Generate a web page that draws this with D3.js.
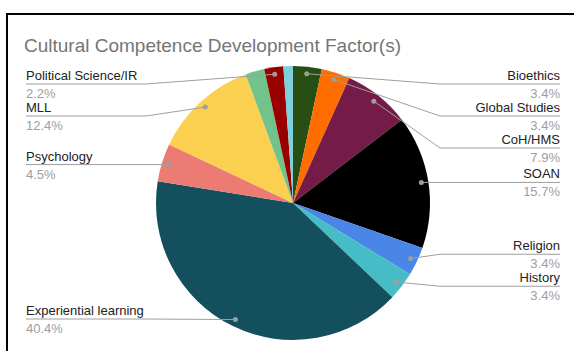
<!DOCTYPE html>
<html>
<head>
<meta charset="utf-8">
<script src="https://cdn.jsdelivr.net/npm/d3@7"></script>
<style>
  body { margin: 0; background: #fff; }
  svg { display: block; font-family: Arial, "Liberation Sans", sans-serif; }
</style>
</head>
<body>
<svg width="574" height="351"></svg>
<script>
// slices in clockwise order from 12 o'clock
const names = ["Bioethics", "Global Studies", "CoH/HMS", "SOAN", "Religion", "History",
  "Experiential learning", "Psychology", "MLL", "Other", "Political Science/IR", "Other (2)"];
const values = [3, 3, 7, 14, 3, 3, 36, 4, 11, 2, 2, 1];
const colors = ["#274e13", "#ff6d01", "#741b47", "#000000", "#4a86e8", "#46bdc6",
  "#134f5c", "#ec7b73", "#fbcf50", "#72c28b", "#990000", "#7ed0dc"];
const hidden = ["Other", "Other (2)"];
const title = "Cultural Competence Development Factor(s)";

const svg = d3.select("svg");
const cx = 293, cy = 203, r = 137;
const total = d3.sum(values);
const fmt = d => (d / total * 100).toFixed(1) + "%";

svg.append("rect")
  .attr("x", 7).attr("y", 14).attr("width", 600).attr("height", 400)
  .attr("fill", "#fff").attr("stroke", "#000").attr("stroke-width", 2);

svg.append("text")
  .attr("x", 24).attr("y", 52)
  .attr("font-size", 19).attr("fill", "#757575")
  .text(title);

const data = names.map((n, i) => ({name: n, value: values[i], color: colors[i]}));
const pie = d3.pie().value(d => d.value).sort(null);
const arcs = pie(data);
const arc = d3.arc().innerRadius(0).outerRadius(r);

const g = svg.append("g").attr("transform", "translate(" + cx + "," + cy + ")");
g.selectAll("path.slice")
  .data(arcs)
  .enter().append("path")
  .attr("class", "slice")
  .attr("d", arc)
  .attr("fill", d => d.data.color);

// labels
const dotR = r - 7;
const gap = 32, minY = 84, maxY = 319;
const labels = arcs.filter(a => hidden.indexOf(a.data.name) < 0).map(a => {
  const mid = (a.startAngle + a.endAngle) / 2;
  const dx = cx + dotR * Math.sin(mid), dy = cy - dotR * Math.cos(mid);
  return {a: a, dx: dx, dy: dy, right: Math.sin(mid) >= 0, y: dy};
});

function layout(list) {
  list.sort((p, q) => p.dy - q.dy);
  // merge overlapping clusters and center them on their mean
  let clusters = list.map(l => [l]);
  let merged = true;
  const place = c => {
    const m = d3.mean(c, l => l.dy);
    c.forEach((l, i) => l.y = m + (i - (c.length - 1) / 2) * gap);
  };
  clusters.forEach(place);
  while (merged) {
    merged = false;
    for (let i = 1; i < clusters.length; i++) {
      const prev = clusters[i - 1], cur = clusters[i];
      if (cur[0].y - prev[prev.length - 1].y < gap) {
        const c = prev.concat(cur);
        place(c);
        clusters.splice(i - 1, 2, c);
        merged = true;
        break;
      }
    }
  }
  for (let i = 0; i < list.length; i++) {
    list[i].y = Math.max(list[i].y, minY, i ? list[i - 1].y + gap : minY);
  }
  for (let i = list.length - 1; i >= 0; i--) {
    list[i].y = Math.min(list[i].y, maxY, i < list.length - 1 ? list[i + 1].y - gap : maxY);
  }
}
layout(labels.filter(l => l.right));
layout(labels.filter(l => !l.right));

const leftX = 26, rightX = 560, bend = r + 10;
labels.forEach(l => {
  const bx = l.right ? cx + bend : cx - bend;
  const ex = l.right ? rightX : leftX;
  svg.append("polyline")
    .attr("points", [[l.dx, l.dy], [bx, l.y], [ex, l.y]].map(p => p.join(",")).join(" "))
    .attr("fill", "none").attr("stroke", "#9e9e9e").attr("stroke-width", 1);
  svg.append("circle")
    .attr("cx", l.dx).attr("cy", l.dy).attr("r", 2.5)
    .attr("fill", "#9e9e9e");
  const anchor = l.right ? "end" : "start";
  svg.append("text")
    .attr("x", ex).attr("y", l.y - 4)
    .attr("text-anchor", anchor)
    .attr("font-size", 13).attr("fill", "#222")
    .text(l.a.data.name);
  svg.append("text")
    .attr("x", ex).attr("y", l.y + 14)
    .attr("text-anchor", anchor)
    .attr("font-size", 13).attr("fill", "#9e9e9e")
    .text(fmt(l.a.data.value));
});
</script>
</body>
</html>
